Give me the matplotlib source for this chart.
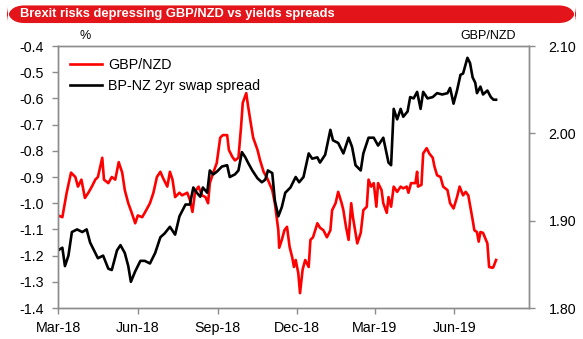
import datetime as dt
import matplotlib
matplotlib.use('Agg')
import matplotlib.pyplot as plt
from matplotlib.patches import FancyBboxPatch

plt.rcParams['font.family'] = ['Liberation Sans', 'DejaVu Sans']

start = dt.date(2018, 3, 1)

# BP-NZ 2yr swap spread (%), left axis; days since 1 Mar 2018
spread_days = [0, 5, 8, 12, 16, 22, 28, 33, 37, 43, 46, 52, 58, 62, 68, 72, 77, 81, 84, 89,
               95, 100, 106, 112, 118, 123, 129, 135, 140, 147, 152, 156, 160, 164, 167, 172,
               175, 179, 183, 189, 195, 198, 204, 208, 212, 216, 219, 224, 230, 235, 239, 242,
               247, 250, 254, 258, 262, 268, 274, 278, 283, 289, 293, 299, 302, 308, 314, 317,
               323, 329, 335, 339, 343, 349, 352, 358, 364, 369, 375, 381, 384, 387, 391, 395,
               398, 403, 406, 410, 414, 418, 421, 426, 432, 437, 443, 449, 452, 456, 460, 464,
               467, 472, 475, 478, 481, 483, 487, 490, 495, 499, 502, 505]
spread = [-1.18, -1.17, -1.24, -1.20, -1.11, -1.10, -1.11, -1.10, -1.15, -1.19, -1.21, -1.20,
          -1.25, -1.255, -1.18, -1.16, -1.19, -1.24, -1.30, -1.26, -1.22, -1.22, -1.23, -1.19,
          -1.13, -1.115, -1.09, -1.12, -1.05, -1.005, -1.005, -0.94, -0.96, -0.975, -0.94,
          -0.96, -0.875, -0.89, -0.88, -0.86, -0.855, -0.90, -0.89, -0.875, -0.805, -0.825,
          -0.845, -0.875, -0.905, -0.92, -0.91, -0.875, -0.885, -0.99, -1.05, -1.015, -0.96,
          -0.94, -0.90, -0.92, -0.90, -0.81, -0.83, -0.825, -0.845, -0.815, -0.72, -0.76,
          -0.77, -0.81, -0.75, -0.785, -0.855, -0.875, -0.81, -0.75, -0.75, -0.78, -0.75,
          -0.845, -0.855, -0.64, -0.68, -0.64, -0.67, -0.65, -0.595, -0.60, -0.575, -0.64,
          -0.575, -0.60, -0.595, -0.58, -0.585, -0.58, -0.56, -0.62, -0.57, -0.51, -0.505,
          -0.445, -0.465, -0.52, -0.54, -0.58, -0.555, -0.585, -0.57, -0.595, -0.605, -0.605]

# GBP/NZD, right axis
fx_days = [0, 5, 10, 15, 20, 23, 27, 31, 35, 39, 43, 46, 51, 53, 58, 62, 66, 70, 74, 77,
           81, 85, 89, 92, 97, 100, 106, 110, 114, 118, 121, 126, 129, 132, 135, 140, 143,
           149, 152, 155, 158, 162, 166, 170, 173, 175, 179, 183, 187, 190, 195, 197, 201,
           204, 208, 211, 213, 217, 219, 222, 225, 230, 233, 237, 241, 247, 250, 254, 255,
           258, 261, 264, 267, 270, 272, 274, 277, 279, 282, 285, 289, 291, 294, 299, 302,
           306, 310, 314, 316, 320, 323, 327, 329, 332, 335, 338, 340, 345, 349, 352, 356,
           358, 361, 364, 367, 369, 373, 375, 379, 381, 384, 387, 391, 395, 398, 402, 404,
           407, 412, 414, 415, 419, 421, 425, 428, 432, 434, 437, 441, 444, 449, 452, 456,
           460, 463, 467, 470, 473, 478, 480, 483, 485, 487, 490, 495, 497, 501, 502, 505]
fx = [1.906, 1.904, 1.932, 1.955, 1.950, 1.939, 1.947, 1.926, 1.932, 1.939, 1.947, 1.950,
      1.972, 1.947, 1.943, 1.950, 1.947, 1.967, 1.955, 1.935, 1.920, 1.909, 1.897, 1.906,
      1.904, 1.909, 1.920, 1.932, 1.950, 1.956, 1.949, 1.939, 1.956, 1.947, 1.927, 1.932,
      1.929, 1.932, 1.924, 1.910, 1.933, 1.939, 1.929, 1.927, 1.920, 1.943, 1.955, 1.966,
      1.995, 1.998, 1.998, 1.981, 1.973, 1.969, 1.972, 2.007, 2.035, 2.046, 2.032, 2.013,
      1.995, 1.981, 1.969, 1.956, 1.949, 1.935, 1.920, 1.889, 1.869, 1.878, 1.889, 1.893,
      1.870, 1.858, 1.847, 1.855, 1.840, 1.817, 1.844, 1.855, 1.847, 1.878, 1.881, 1.897,
      1.892, 1.889, 1.881, 1.889, 1.912, 1.920, 1.933, 1.920, 1.912, 1.893, 1.878, 1.920,
      1.904, 1.874, 1.886, 1.912, 1.916, 1.947, 1.939, 1.943, 1.916, 1.943, 1.935, 1.920,
      1.909, 1.927, 1.916, 1.939, 1.933, 1.939, 1.937, 1.939, 1.932, 1.943, 1.943, 1.956,
      1.939, 1.941, 1.977, 1.983, 1.977, 1.972, 1.962, 1.952, 1.950, 1.939, 1.935, 1.920,
      1.914, 1.927, 1.939, 1.929, 1.933, 1.929, 1.901, 1.889, 1.887, 1.876, 1.887, 1.886,
      1.874, 1.847, 1.846, 1.847, 1.855]

tick_dates = [dt.date(2018, 3, 1), dt.date(2018, 6, 1), dt.date(2018, 9, 1),
              dt.date(2018, 12, 1), dt.date(2019, 3, 1), dt.date(2019, 6, 1)]
tick_labels = ['Mar-18', 'Jun-18', 'Sep-18', 'Dec-18', 'Mar-19', 'Jun-19']
left_ticks = [-1.4, -1.3, -1.2, -1.1, -1.0, -0.9, -0.8, -0.7, -0.6, -0.5, -0.4]
right_ticks = [1.80, 1.90, 2.00, 2.10]

grey = '#8c8c8c'


def to_dates(days):
    return [start + dt.timedelta(days=d) for d in days]


def main():
    fig = plt.figure(figsize=(5.83, 3.39), dpi=100)

    # red title bar
    bar = FancyBboxPatch((0.012, 0.932), 0.976, 0.052, boxstyle='round,pad=0,rounding_size=0.03',
                         transform=fig.transFigure, facecolor='#e3151a', edgecolor='none',
                         mutation_aspect=1.7)
    fig.patches.append(bar)
    fig.text(0.034, 0.958, 'Brexit risks depressing GBP/NZD vs yields spreads', color='white',
             fontsize=9.3, fontweight='bold', va='center', ha='left')

    ax = fig.add_axes([0.0995, 0.0914, 0.8079, 0.7729])
    ax2 = ax.twinx()
    ax.set_zorder(ax2.get_zorder() + 1)
    ax.patch.set_visible(False)

    red_line, = ax2.plot(to_dates(fx_days), fx, color='#ff0000', lw=1.9)
    black_line, = ax.plot(to_dates(spread_days), spread, color='black', lw=1.9)

    ax.set_ylim(-1.4, -0.4)
    ax2.set_ylim(1.80, 2.10)
    ax.set_yticks(left_ticks)
    ax.set_yticklabels([f'{v:.1f}' for v in left_ticks])
    ax2.set_yticks(right_ticks)
    ax2.set_yticklabels([f'{v:.2f}' for v in right_ticks])

    ax.set_xlim(dt.date(2018, 3, 1), dt.date(2019, 8, 26))
    ax.set_xticks(tick_dates)
    ax.set_xticklabels(tick_labels)

    for a in (ax, ax2):
        for s in a.spines.values():
            s.set_color(grey)
            s.set_linewidth(1.0)
        a.tick_params(axis='both', color=grey, length=4, width=1.0, labelsize=10.3,
                      labelcolor='black', direction='out')
    ax.tick_params(axis='y', pad=6)
    ax2.tick_params(axis='y', pad=10)
    ax.tick_params(axis='x', pad=5)

    fig.text(0.137, 0.893, '%', fontsize=9, ha='left', va='center')
    fig.text(0.885, 0.893, 'GBP/NZD', fontsize=9, ha='right', va='center')

    ax.legend([red_line, black_line], ['GBP/NZD', 'BP-NZ 2yr swap spread'],
              loc='upper left', bbox_to_anchor=(0.0, 1.0), frameon=False, fontsize=10.3,
              handlelength=2.2, handletextpad=0.45, labelspacing=0.5, borderaxespad=0.45)

    fig.savefig('out.png', dpi=100)


if __name__ == '__main__':
    main()
